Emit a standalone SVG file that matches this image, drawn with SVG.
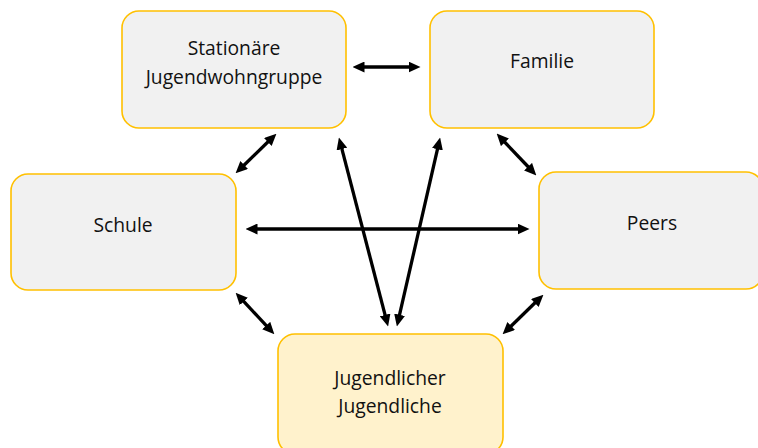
<svg xmlns="http://www.w3.org/2000/svg" width="758" height="448" viewBox="0 0 758 448">
<defs>
<marker id="ah" viewBox="0 0 12 11" refX="2.5" refY="5.5" markerWidth="12" markerHeight="11" markerUnits="userSpaceOnUse" orient="auto-start-reverse">
<path d="M0,0 L12,5.5 L0,11 z" fill="#000"/>
</marker>
<style>
.box{fill:#F1F1F1;stroke:#FFC000;stroke-width:1.6}
.main{fill:#FFF2CC;stroke:#FFC000;stroke-width:1.6}
.lbl{font-family:"Open Sans","Liberation Sans",sans-serif;font-size:19.3px;fill:#111;text-anchor:middle}
.con{stroke:#000;stroke-width:3.3;fill:none;marker-start:url(#ah);marker-end:url(#ah)}
</style>
</defs>
<rect width="758" height="448" fill="#fff"/>
<g id="connectors">
<line class="con" x1="362" y1="67" x2="411" y2="67"/>
<line class="con" x1="269.6" y1="140.3" x2="242.4" y2="166.7"/>
<line class="con" x1="341.3" y1="146.7" x2="385.7" y2="317.3"/>
<line class="con" x1="438" y1="146.8" x2="399" y2="317.2"/>
<line class="con" x1="255" y1="229" x2="520" y2="229"/>
<line class="con" x1="503.2" y1="140.5" x2="529.8" y2="168.5"/>
<line class="con" x1="242.1" y1="299.6" x2="267.9" y2="327.4"/>
<line class="con" x1="536.6" y1="301.3" x2="509.4" y2="327.7"/>
</g>
<g id="stationaere">
<rect class="box" x="122" y="11" width="224" height="117" rx="17"/>
<text class="lbl" x="234" y="55">Stationäre</text>
<text class="lbl" x="234" y="84">Jugendwohngruppe</text>
</g>
<g id="familie">
<rect class="box" x="430" y="11" width="224" height="117" rx="17"/>
<text class="lbl" x="542" y="68">Familie</text>
</g>
<g id="schule">
<rect class="box" x="11" y="174" width="225" height="116" rx="17"/>
<text class="lbl" x="123" y="232">Schule</text>
</g>
<g id="peers">
<rect class="box" x="539" y="172" width="224" height="117" rx="17"/>
<text class="lbl" x="652" y="230">Peers</text>
</g>
<g id="jugendlicher">
<rect class="main" x="278" y="334" width="225" height="120" rx="17"/>
<text class="lbl" x="390" y="385">Jugendlicher</text>
<text class="lbl" x="390" y="413">Jugendliche</text>
</g>
</svg>
